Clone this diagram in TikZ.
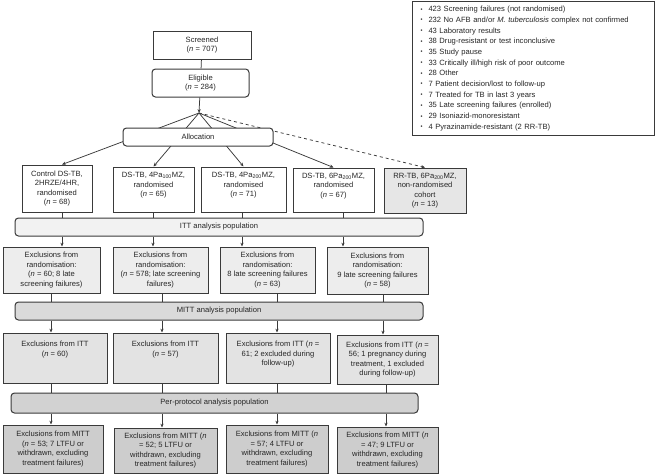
\documentclass[tikz,border=0pt]{standalone}
\usepackage{fontspec}
\setmainfont{Liberation Sans}
\usetikzlibrary{arrows.meta}
\definecolor{bd}{HTML}{3A3A3A}
\definecolor{rrfill}{HTML}{E6E6E6}
\definecolor{ittfill}{HTML}{F2F2F2}
\definecolor{eafill}{HTML}{EDEDED}
\definecolor{mittfill}{HTML}{DADADA}
\definecolor{ebfill}{HTML}{E3E3E3}
\definecolor{ppfill}{HTML}{D2D2D2}
\definecolor{ecfill}{HTML}{CDCDCD}
\newcommand{\nn}{\textit{n}}
\newcommand{\bul}{\makebox[8pt][l]{\raisebox{0.6pt}{\scalebox{0.75}{\textbullet}}}}
\begin{document}
\begin{tikzpicture}[x=1pt,y=-1pt,
  every node/.style={font=\fontsize{7.6}{9.5}\selectfont, align=center, inner sep=1pt, text=black!85},
  box/.style={draw=bd, line width=1pt, fill=white},
  rbox/.style={box, rounded corners=3.5pt},
  arr/.style={-{Stealth[length=3.8pt,width=3.2pt]}, line width=0.75pt, draw=bd},
  ln/.style={line width=0.75pt, draw=bd}]
\useasboundingbox (0,0) rectangle (655,474);

% legend
\node[box, anchor=north west, minimum width=242pt, minimum height=134pt, align=left,
  text width=226pt, inner xsep=8pt, font=\fontsize{7.6}{10.7}\selectfont] (legend) at (412,1)
{\bul423 Screening failures (not randomised)\\
\bul232 No AFB and/or \textit{M. tuberculosis} complex not confirmed\\
\bul43 Laboratory results\\
\bul38 Drug-resistant or test inconclusive\\
\bul35 Study pause\\
\bul33 Critically ill/high risk of poor outcome\\
\bul28 Other\\
\bul7 Patient decision/lost to follow-up\\
\bul7 Treated for TB in last 3 years\\
\bul35 Late screening failures (enrolled)\\
\bul29 Isoniazid-monoresistant\\
\bul4 Pyrazinamide-resistant (2 RR-TB)};

% top
\node[box, minimum width=98pt, minimum height=28pt] (scr) at (202,45) {Screened\\(\nn{} = 707)};
\node[rbox, minimum width=97pt, minimum height=28pt] (eli) at (200.5,83) {Eligible\\(\nn{} = 284)};
\coordinate (apex) at (199,113);
\draw[ln] (scr) -- (eli);
\draw[arr] (eli) -- (apex);

% column x positions
\coordinate (c1) at (62,0);
\coordinate (c2) at (153,0);
\coordinate (c3) at (242,0);
\coordinate (c4) at (343,0);
\coordinate (d1) at (51,0);
\coordinate (d2) at (162,0);
\coordinate (d3) at (277,0);
\coordinate (d4) at (383,0);
\coordinate (f4) at (386,0);

% arms
\node[box, minimum width=70pt, minimum height=47pt] (ctrl) at (57,188.5) {Control DS-TB,\\2HRZE/4HR,\\randomised\\(\nn{} = 68)};
\node[box, minimum width=81pt, minimum height=45pt] (b2) at (153.5,189.5) {DS-TB, 4Pa\textsubscript{100}MZ,\\randomised\\(\nn{} = 65)\\~};
\node[box, minimum width=85pt, minimum height=45pt] (b3) at (243.5,189.5) {DS-TB, 4Pa\textsubscript{200}MZ,\\randomised\\(\nn{} = 71)\\~};
\node[box, minimum width=81pt, minimum height=44pt] (b4) at (333.5,190) {DS-TB, 6Pa\textsubscript{200}MZ,\\randomised\\(\nn{} = 67)\\~};
\node[box, fill=rrfill, minimum width=82pt, minimum height=45pt] (rr) at (425,190.5) {RR-TB, 6Pa\textsubscript{200}MZ,\\non-randomised\\cohort\\(\nn{} = 13)};

\draw[arr] (apex) -- (ctrl.north -| c1);
\draw[arr] (apex) -- (b2.north);
\draw[arr] (apex) -- (b3.north);
\draw[arr] (apex) -- (b4.north);
\draw[arr, dashed] (apex) -- (rr.north);

\node[rbox, minimum width=150pt, minimum height=18pt] (alloc) at (198,137) {Allocation};

% ITT
\node[rbox, fill=ittfill, minimum width=408pt, minimum height=18pt] (itt) at (219,227) {ITT analysis population};
\draw[ln] (ctrl.south -| c1) -- (itt.north -| c1);
\draw[ln] (b2.south -| c2) -- (itt.north -| c2);
\draw[ln] (b3.south -| c3) -- (itt.north -| c3);
\draw[ln] (b4.south -| c4) -- (itt.north -| c4);

\node[box, fill=eafill, minimum width=97pt, minimum height=46pt] (ea) at (51.5,270) {Exclusions from\\randomisation:\\(\nn{} = 60; 8 late\\screening failures)};
\node[box, fill=eafill, minimum width=95pt, minimum height=46pt] (eb) at (160.5,270) {Exclusions from\\randomisation:\\(\nn{} = 578; late screening\\failures)};
\node[box, fill=eafill, minimum width=95pt, minimum height=46pt] (ec) at (267.5,270) {Exclusions from\\randomisation:\\8 late screening failures\\(\nn{} = 63)};
\node[box, fill=eafill, minimum width=101pt, minimum height=47pt] (ed) at (377.5,270.5) {Exclusions from\\randomisation:\\9 late screening failures\\(\nn{} = 58)};
\draw[arr] (itt.south -| c1) -- (ea.north -| c1);
\draw[arr] (itt.south -| c2) -- (eb.north -| c2);
\draw[arr] (itt.south -| c3) -- (ec.north -| c3);
\draw[arr] (itt.south -| c4) -- (ed.north -| c4);

% MITT
\node[rbox, fill=mittfill, minimum width=408pt, minimum height=18pt] (mitt) at (219,311) {MITT analysis population};
\draw[ln] (ea.south -| d1) -- (mitt.north -| d1);
\draw[ln] (eb.south -| d2) -- (mitt.north -| d2);
\draw[ln] (ec.south -| d3) -- (mitt.north -| d3);
\draw[ln] (ed.south -| d4) -- (mitt.north -| d4);

\node[box, fill=ebfill, minimum width=104pt, minimum height=50pt] (fa) at (55,358) {Exclusions from ITT\\(\nn{} = 60)\\~\\~};
\node[box, fill=ebfill, minimum width=105pt, minimum height=50pt] (fb) at (165.5,358) {Exclusions from ITT\\(\nn{} = 57)\\~\\~};
\node[box, fill=ebfill, minimum width=104pt, minimum height=50pt] (fc) at (278,358) {Exclusions from ITT (\nn{} =\\61; 2 excluded during\\follow-up)\\~};
\node[box, fill=ebfill, minimum width=101pt, minimum height=49pt] (fd) at (387.5,359.5) {Exclusions from ITT (\nn{} =\\56; 1 pregnancy during\\treatment, 1 excluded\\during follow-up)};
\draw[arr] (mitt.south -| d1) -- (fa.north -| d1);
\draw[arr] (mitt.south -| d2) -- (fb.north -| d2);
\draw[arr] (mitt.south -| d3) -- (fc.north -| d3);
\draw[arr] (mitt.south -| d4) -- (fd.north -| d4);

% Per-protocol
\node[rbox, fill=ppfill, minimum width=407pt, minimum height=20pt] (pp) at (214.5,403) {Per-protocol analysis population};
\draw[ln] (fa.south -| d1) -- (pp.north -| d1);
\draw[ln] (fb.south -| d2) -- (pp.north -| d2);
\draw[ln] (fc.south -| d3) -- (pp.north -| d3);
\draw[ln] (fd.south -| f4) -- (pp.north -| f4);

\node[box, fill=ecfill, minimum width=100pt, minimum height=48pt] (ga) at (53,449) {Exclusions from MITT\\(\nn{} = 53; 7 LTFU or\\withdrawn, excluding\\treatment failures)};
\node[box, fill=ecfill, minimum width=103pt, minimum height=45pt] (gb) at (165.5,450.5) {Exclusions from MITT (\nn{}\\= 52; 5 LTFU or\\withdrawn, excluding\\treatment failures)};
\node[box, fill=ecfill, minimum width=102pt, minimum height=48pt] (gc) at (277,449) {Exclusions from MITT (\nn{}\\= 57; 4 LTFU or\\withdrawn, excluding\\treatment failures)};
\node[box, fill=ecfill, minimum width=101pt, minimum height=46pt] (gd) at (387.5,450) {Exclusions from MITT (\nn{}\\= 47; 9 LTFU or\\withdrawn, excluding\\treatment failures)};
\draw[arr] (pp.south -| d1) -- (ga.north -| d1);
\draw[arr] (pp.south -| d2) -- (gb.north -| d2);
\draw[arr] (pp.south -| d3) -- (gc.north -| d3);
\draw[arr] (pp.south -| f4) -- (gd.north -| f4);
\end{tikzpicture}
\end{document}
